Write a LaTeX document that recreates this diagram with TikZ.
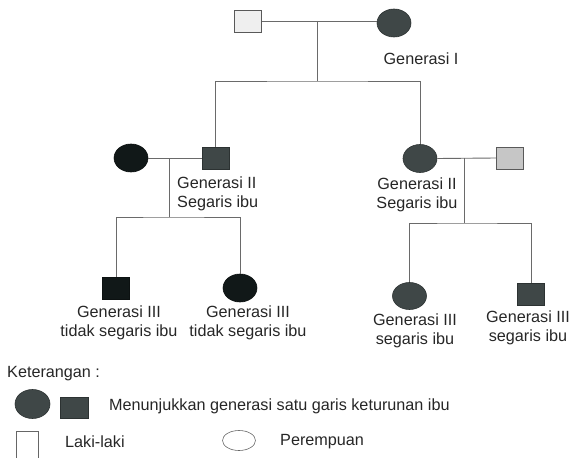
\documentclass[tikz,border=0pt]{standalone}
\usepackage{fontspec}
\setmainfont{Liberation Sans}
\usetikzlibrary{shapes.geometric}
\definecolor{dkg}{HTML}{3F4747}
\definecolor{blk}{HTML}{111818}
\definecolor{ltg}{HTML}{EFEFEF}
\definecolor{mdg}{HTML}{C6C6C6}
\definecolor{lnc}{HTML}{6A6A6A}
\tikzset{
  male/.style={rectangle, draw=#1!70!black, line width=0.6pt, minimum width=27pt, minimum height=22pt, inner sep=0pt},
  female/.style={ellipse, draw=#1!70!black, line width=0.6pt, minimum width=34pt, minimum height=28pt, inner sep=0pt},
  lbl/.style={font=\fontsize{16.2}{19.5}\selectfont, text=black!85, inner sep=0pt, align=center},
  link/.style={draw=lnc, line width=0.9pt}
}
\begin{document}
\begin{tikzpicture}[x=1pt,y=-1pt]
\useasboundingbox (0,0) rectangle (569,457);
\clip (0,0) rectangle (569,457);
% Generation I
\node[male=gray, fill=ltg] (sqI) at (248,21) {};
\node[female=dkg, fill=dkg] (ciI) at (394,23) {};
\node[lbl] (lI) at (421,59) {Generasi I};
% Generation II
\node[female=blk, fill=blk] (ciIIa) at (131,158) {};
\node[male=dkg, fill=dkg] (sqIIa) at (215.5,158) {};
\node[lbl, align=left, anchor=west] (lIIa) at (177,194) {Generasi II\\Segaris ibu};
\node[female=dkg, fill=dkg] (ciIIb) at (420,158.5) {};
\node[male=gray, fill=mdg] (sqIIb) at (510,158) {};
\node[lbl] (lIIb) at (417,195) {Generasi II\\Segaris ibu};
% Generation III
\node[male=blk, fill=blk] (sqIIIa) at (116,288) {};
\node[female=blk, fill=blk] (ciIIIa) at (240,288) {};
\node[lbl] (lIIIa) at (119,323) {Generasi III\\tidak segaris ibu};
\node[lbl] (lIIIb) at (248,323) {Generasi III\\tidak segaris ibu};
\node[female=dkg, fill=dkg, minimum height=27pt] (ciIIIc) at (409.5,296) {};
\node[male=dkg, fill=dkg] (sqIIId) at (531,294) {};
\node[lbl] (lIIIc) at (415,331) {Generasi III\\segaris ibu};
\node[lbl] (lIIId) at (528,328) {Generasi III\\segaris ibu};
% connectors
\coordinate (m1) at (317,21);
\coordinate (c1) at (317,81);
\coordinate (m2) at (169,158);
\coordinate (c2) at (169,217);
\coordinate (m3) at (464,158);
\coordinate (c3) at (464,223);
\draw[link] (sqI.east) -- (ciI.west |- sqI.east);
\draw[link] (m1) -- (c1);
\draw[link] (sqIIa.north) |- (c1) -| (ciIIb.north);
\draw[link] (ciIIa.east) -- (sqIIa.west);
\draw[link] (m2) -- (c2);
\draw[link] (sqIIIa.north) |- (c2) -| (ciIIIa.north);
\draw[link] (ciIIb.east) -- (sqIIb.west);
\draw[link] (m3) -- (c3);
\draw[link] (ciIIIc.north) |- (c3) -| (sqIIId.north);
% legend
\node[lbl, anchor=west] (ket) at (7,374) {Keterangan :};
\node[female=dkg, fill=dkg, minimum width=35pt, minimum height=29pt] (lgc) at (32.5,404) {};
\node[male=dkg, fill=dkg, minimum width=28pt, minimum height=21pt] (lgs) at (74,408) {};
\node[lbl, anchor=west] (lgt) at (109,406) {Menunjukkan generasi satu garis keturunan ibu};
\node[rectangle, draw=black!60, line width=0.6pt, minimum width=22pt, minimum height=32pt, inner sep=0pt, anchor=north] (lgm) at (27,431) {};
\node[lbl, anchor=west] (lgmt) at (65,442) {Laki-laki};
\node[ellipse, draw=black!60, line width=0.6pt, minimum width=33pt, minimum height=20pt, inner sep=0pt] (lgf) at (239,440.5) {};
\node[lbl, anchor=west] (lgft) at (280,442) {Perempuan};
\end{tikzpicture}
\end{document}
